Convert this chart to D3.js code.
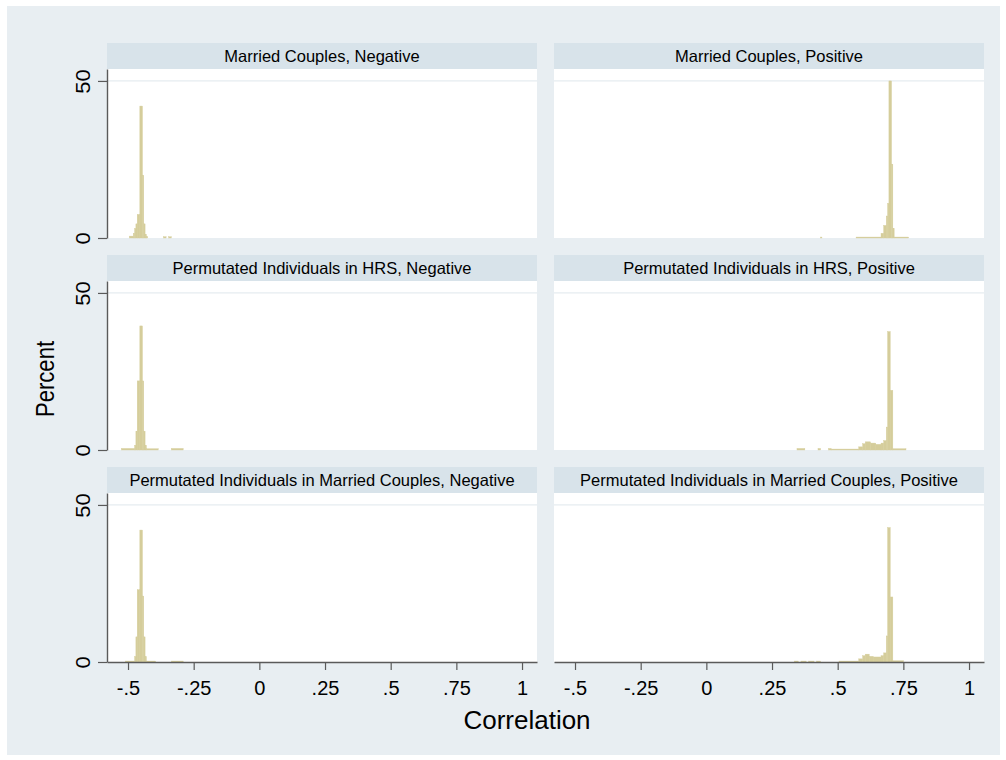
<!DOCTYPE html>
<html>
<head>
<meta charset="utf-8">
<script src="https://cdn.jsdelivr.net/npm/d3@7"></script>
<style>
body { margin: 0; background: #fff; }
text { font-family: "Liberation Sans", Arial, sans-serif; fill: #000; }
</style>
</head>
<body>
<div id="chart"></div>
<script>
// histogram bins: [bin start, bin end, percent]
var mcNeg = [
  [-0.495, -0.48, 0.6], [-0.48, -0.475, 1.5], [-0.475, -0.47, 3], [-0.47, -0.465, 4.5],
  [-0.465, -0.455, 7.5], [-0.455, -0.445, 42], [-0.445, -0.44, 20], [-0.44, -0.435, 4.5],
  [-0.435, -0.43, 1.2], [-0.43, -0.425, 0.5], [-0.365, -0.355, 0.4], [-0.345, -0.335, 0.4]
];
var mcPos = [
  [0.435, 0.44, 0.3], [0.57, 0.665, 0.3], [0.665, 0.675, 1.5], [0.675, 0.685, 4],
  [0.685, 0.69, 7], [0.69, 0.695, 11], [0.695, 0.705, 50], [0.705, 0.71, 23.5],
  [0.71, 0.715, 3], [0.715, 0.77, 0.3]
];
var hrsNeg = [
  [-0.525, -0.475, 0.5], [-0.475, -0.47, 1.5], [-0.47, -0.465, 6], [-0.465, -0.455, 22],
  [-0.455, -0.445, 39.5], [-0.445, -0.44, 22], [-0.44, -0.435, 6], [-0.435, -0.43, 1.5],
  [-0.43, -0.385, 0.4], [-0.335, -0.29, 0.5]
];
var hrsPos = [
  [0.345, 0.375, 0.5], [0.425, 0.435, 0.5], [0.465, 0.475, 0.5], [0.475, 0.58, 0.3],
  [0.58, 0.595, 1], [0.595, 0.605, 2], [0.605, 0.625, 2.6], [0.625, 0.645, 2.2],
  [0.645, 0.665, 1.8], [0.665, 0.675, 2.2], [0.675, 0.685, 3], [0.685, 0.69, 7.3],
  [0.69, 0.70, 37.7], [0.70, 0.71, 19], [0.71, 0.76, 0.4]
];
var mcpNeg = [
  [-0.51, -0.475, 0.3], [-0.475, -0.47, 1.7], [-0.47, -0.465, 8], [-0.465, -0.455, 23],
  [-0.455, -0.445, 42], [-0.445, -0.44, 21], [-0.44, -0.435, 8], [-0.435, -0.43, 1.7],
  [-0.43, -0.395, 0.3], [-0.335, -0.29, 0.3]
];
var mcpPos = [
  [0.335, 0.35, 0.3], [0.36, 0.38, 0.3], [0.39, 0.41, 0.3], [0.42, 0.435, 0.3],
  [0.505, 0.58, 0.3], [0.58, 0.595, 1], [0.595, 0.605, 2], [0.605, 0.62, 2.5],
  [0.62, 0.635, 1.8], [0.635, 0.665, 1.6], [0.665, 0.675, 2], [0.675, 0.685, 2.9],
  [0.685, 0.69, 8.3], [0.69, 0.70, 42.8], [0.70, 0.71, 20.7], [0.71, 0.75, 0.4]
];

var panelTitles = [
  "Married Couples, Negative", "Married Couples, Positive",
  "Permutated Individuals in HRS, Negative", "Permutated Individuals in HRS, Positive",
  "Permutated Individuals in Married Couples, Negative", "Permutated Individuals in Married Couples, Positive"
];
var panelData = [mcNeg, mcPos, hrsNeg, hrsPos, mcpNeg, mcpPos];

var xTicks = [-0.5, -0.25, 0, 0.25, 0.5, 0.75, 1];
var xTickLabels = ["-.5", "-.25", "0", ".25", ".5", ".75", "1"];
var yTicks = [0, 50];

var width = 1006, height = 760;
var colX = [107, 554], panelW = 430;
var rowY = [43, 255, 467], headH = 26, plotH = 169;
var barColor = "#d5cd9b";
var axisColor = "#5a5a5a";

var svg = d3.select("div#chart")
    .append("svg")
    .attr("width", width)
    .attr("height", height);

// outer graph region
svg.append("rect")
    .attr("x", 7).attr("y", 6)
    .attr("width", 993).attr("height", 749)
    .attr("fill", "#e8eef2");

var x = d3.scaleLinear().domain([-0.58, 1.057]).range([0, panelW]);
var y = d3.scaleLinear().domain([0, 53.8]).range([plotH, 0]);

panelData.forEach(function(bins, i) {
    var col = i % 2, row = Math.floor(i / 2);
    var g = svg.append("g")
        .attr("transform", "translate(" + colX[col] + "," + rowY[row] + ")");

    // header strip
    g.append("rect")
        .attr("width", panelW).attr("height", headH)
        .attr("fill", "#d8e3ea");
    g.append("text")
        .attr("x", panelW / 2).attr("y", headH / 2)
        .attr("dy", "0.35em")
        .attr("text-anchor", "middle")
        .style("font-size", "16.5px")
        .text(panelTitles[i]);

    var p = g.append("g").attr("transform", "translate(0," + headH + ")");
    p.append("rect")
        .attr("width", panelW).attr("height", plotH)
        .attr("fill", "#fff");

    // grid line at 50
    p.append("line")
        .attr("x1", 0).attr("x2", panelW)
        .attr("y1", y(50)).attr("y2", y(50))
        .attr("stroke", "#e6ecf0")
        .attr("stroke-width", 1.2);

    p.selectAll("rect.bar")
        .data(bins)
        .enter()
        .append("rect")
        .attr("class", "bar")
        .attr("x", (d) => x(d[0]))
        .attr("width", (d) => x(d[1]) - x(d[0]))
        .attr("y", (d) => y(d[2]))
        .attr("height", (d) => y(0) - y(d[2]))
        .attr("fill", barColor)
        .attr("stroke", barColor)
        .attr("stroke-width", 0.4);

    if (col == 0) {
        var ya = p.append("g")
            .call(d3.axisLeft(y).tickValues(yTicks).tickSize(9).tickSizeOuter(0));
        ya.select(".domain").attr("stroke", axisColor).attr("stroke-width", 1.4);
        ya.selectAll(".tick line").attr("stroke", axisColor).attr("stroke-width", 1.2);
        ya.selectAll("text")
            .attr("transform", "rotate(-90) scale(1.1,1)")
            .attr("x", 0).attr("y", -17).attr("dy", 0)
            .attr("text-anchor", "middle")
            .attr("fill", "#000")
            .style("font-size", "20px")
            .style("font-family", "'Liberation Sans', Arial, sans-serif");
    }

    if (row == 2) {
        var xa = p.append("g")
            .attr("transform", "translate(0," + plotH + ")")
            .call(d3.axisBottom(x).tickValues(xTicks)
                .tickFormat((d, k) => xTickLabels[k])
                .tickSize(8).tickSizeOuter(0));
        xa.select(".domain").attr("stroke", axisColor).attr("stroke-width", 1.4);
        xa.selectAll(".tick line").attr("stroke", axisColor).attr("stroke-width", 1.2);
        xa.selectAll("text")
            .attr("y", 19)
            .attr("fill", "#000")
            .style("font-size", "20px")
            .style("font-family", "'Liberation Sans', Arial, sans-serif");
    }
});

// axis titles
svg.append("text")
    .attr("transform", "translate(54,379) rotate(-90) scale(0.85,1)")
    .attr("text-anchor", "middle")
    .style("font-size", "26px")
    .text("Percent");

svg.append("text")
    .attr("x", 527).attr("y", 729)
    .attr("text-anchor", "middle")
    .style("font-size", "26px")
    .text("Correlation");
</script>
</body>
</html>
